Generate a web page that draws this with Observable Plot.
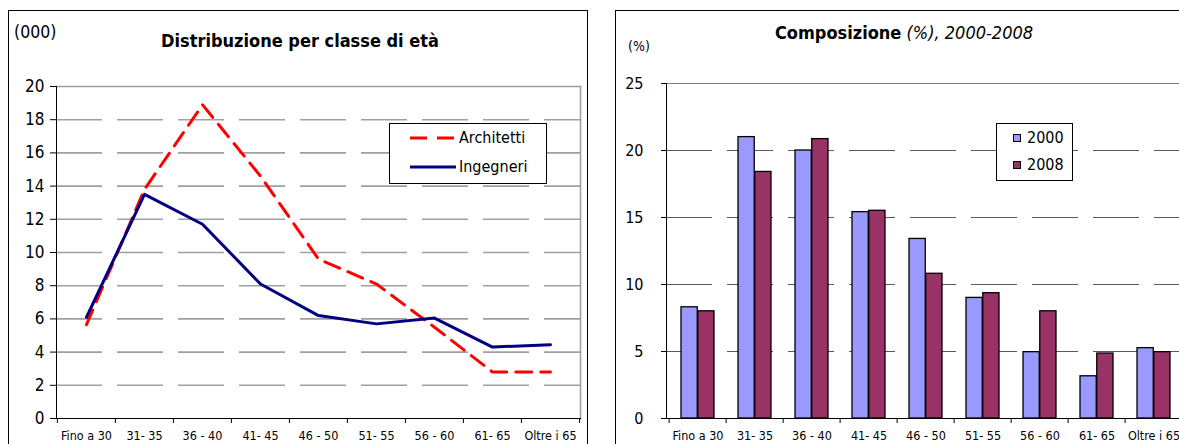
<!DOCTYPE html>
<html>
<head>
<meta charset="utf-8">
<script src="https://cdn.jsdelivr.net/npm/d3@7"></script>
<script src="https://cdn.jsdelivr.net/npm/@observablehq/plot@0.6"></script>
<style>
  html, body { margin: 0; padding: 0; width: 1179px; height: 444px; overflow: hidden; background: #fff; }
  body { position: relative; font-family: "DejaVu Sans Condensed", "DejaVu Sans", sans-serif; color: #000; }
  .panel { position: absolute; border: 1.5px solid #000; box-sizing: border-box; background: #fff; }
  .abs { position: absolute; white-space: nowrap; }
  .chart { position: absolute; top: 0; }
  .legend { position: absolute; border: 1px solid #000; background: #fff; box-sizing: border-box; }
  .legend .row { position: absolute; display: flex; align-items: center; font-size: 16px; }
</style>
</head>
<body>
<div class="panel" style="left:8px;top:10px;width:580px;height:460px;"></div>
<div class="panel" style="left:615px;top:10px;width:600px;height:460px;"></div>

<div class="abs" style="left:14px;top:22px;font-size:17.5px;">(000)</div>
<div class="abs" style="left:300px;top:30px;transform:translateX(-50%);font-size:18px;font-weight:bold;">Distribuzione per classe di età</div>

<div class="abs" style="left:628px;top:38px;font-size:14px;">(%)</div>
<div class="abs" style="left:904px;top:22px;transform:translateX(-50%);font-size:18px;"><b>Composizione</b> <i>(%), 2000-2008</i></div>

<div id="left" class="chart" style="left:0px;"></div>
<div id="right" class="chart" style="left:590px;"></div>

<div class="legend" style="left:389px;top:123px;width:158px;height:61px;">
  <div class="row" style="left:20px;top:4px;">
    <svg width="46" height="6" style="margin-right:3px"><line x1="0" y1="3" x2="46" y2="3" stroke="#ff0000" stroke-width="3" stroke-dasharray="17,10"/></svg>Architetti
  </div>
  <div class="row" style="left:20px;top:33px;">
    <svg width="46" height="6" style="margin-right:3px"><line x1="0" y1="3" x2="46" y2="3" stroke="#000080" stroke-width="3"/></svg>Ingegneri
  </div>
</div>

<div class="legend" style="left:996px;top:123px;width:77px;height:58px;">
  <div class="row" style="left:16px;top:4px;">
    <svg width="8" height="8" style="margin-right:6px"><rect x="0.5" y="0.5" width="7" height="7" fill="#9999ff" stroke="#000" stroke-width="1"/></svg>2000
  </div>
  <div class="row" style="left:16px;top:31px;">
    <svg width="8" height="8" style="margin-right:6px"><rect x="0.5" y="0.5" width="7" height="7" fill="#993366" stroke="#000" stroke-width="1"/></svg>2008
  </div>
</div>

<script>
// ---- data ----
const categories = ["Fino a 30", "31- 35", "36 - 40", "41- 45", "46 - 50", "51- 55", "56 - 60", "61- 65", "Oltre i 65"];
const architetti = [5.65, 13.8, 18.9, 14.6, 9.6, 8.1, 5.5, 2.8, 2.8];
const ingegneri = [6.1, 13.5, 11.7, 8.1, 6.2, 5.7, 6.05, 4.3, 4.45];
const share2000 = [8.3, 21.0, 20.0, 15.4, 13.4, 9.0, 4.95, 3.15, 5.25];
const share2008 = [8.0, 18.4, 20.85, 15.5, 10.8, 9.35, 8.0, 4.85, 4.95];
const leftYTicks = [0, 2, 4, 6, 8, 10, 12, 14, 16, 18, 20];
const rightYTicks = [0, 5, 10, 15, 20, 25];

const rows = categories.map((c, i) => ({
  cat: c, arch: architetti[i], ing: ingegneri[i], s2000: share2000[i], s2008: share2008[i]
}));

const tickFont = '"Liberation Sans Narrow", "Arial Narrow", "DejaVu Sans Condensed", sans-serif';
const numFont = '"DejaVu Sans Condensed", "DejaVu Sans", sans-serif';

// ---- left: line chart ----
{
  const W = 590, H = 444, mL = 56, mR = 10, mT = 86, mB = 26;
  const step = (W - mL - mR) / categories.length;
  const chart = Plot.plot({
    width: W, height: H, marginLeft: mL, marginRight: mR, marginTop: mT, marginBottom: mB,
    style: { background: "transparent", maxWidth: "none", overflow: "visible", color: "#000" },
    x: { type: "point", domain: categories, padding: 0.5, align: 0.5, label: null },
    y: { domain: [0, 20], label: null },
    marks: [
      Plot.ruleY(leftYTicks.filter(d => d > 0 && d < 20), { stroke: "#a0a0a0", strokeWidth: 1.6, strokeDasharray: "46,15" }),
      Plot.frame({ anchor: "top", stroke: "#a0a0a0", strokeWidth: 1.6 }),
      Plot.frame({ anchor: "right", stroke: "#a0a0a0", strokeWidth: 1.6 }),
      Plot.frame({ anchor: "left", stroke: "#000" }),
      Plot.frame({ anchor: "bottom", stroke: "#000" }),
      Plot.axisY({ ticks: leftYTicks, tickSize: 6, tickPadding: 6, fontSize: 17, fontFamily: numFont, label: null, tickFormat: d => d }),
      Plot.axisX({ tickSize: 0, tickPadding: 13, fontSize: 12.5, fontFamily: tickFont, label: null }),
      Plot.axisX({ text: null, tickSize: 5, dx: -step / 2, label: null }),
      Plot.axisX({ ticks: [categories[categories.length - 1]], text: null, tickSize: 5, dx: step / 2, label: null }),
      Plot.line(rows, { x: "cat", y: "arch", stroke: "#ff0000", strokeWidth: 3, strokeDasharray: "16,9" }),
      Plot.line(rows, { x: "cat", y: "ing", stroke: "#000080", strokeWidth: 3 })
    ]
  });
  document.getElementById("left").appendChild(chart);
}

// ---- right: grouped bars ----
{
  const W = 600, H = 444, mL = 76, mR = 4, mT = 83, mB = 26;
  const step = (W - mL - mR) / categories.length;
  const pin = 0.42;
  const bw = step * (1 - pin);
  const chart = Plot.plot({
    width: W, height: H, marginLeft: mL, marginRight: mR, marginTop: mT, marginBottom: mB,
    style: { background: "transparent", maxWidth: "none", overflow: "visible", color: "#000" },
    x: { type: "band", domain: categories, paddingInner: pin, paddingOuter: pin / 2, align: 0.5, label: null },
    y: { domain: [0, 25], label: null },
    marks: [
      Plot.ruleY(rightYTicks.filter(d => d > 0 && d < 25), { stroke: "#5a5a5a", strokeWidth: 1.2, strokeDasharray: "46,15" }),
      Plot.frame({ anchor: "top", stroke: "#808080", strokeWidth: 1.2 }),
      Plot.barY(rows, { x: "cat", y: "s2000", fill: "#9999ff", stroke: "#000", strokeWidth: 1.3, insetRight: bw / 2 }),
      Plot.barY(rows, { x: "cat", y: "s2008", fill: "#993366", stroke: "#000", strokeWidth: 1.3, insetLeft: bw / 2 }),
      Plot.frame({ anchor: "left", stroke: "#000" }),
      Plot.frame({ anchor: "bottom", stroke: "#000" }),
      Plot.axisY({ ticks: rightYTicks, tickSize: 5, tickPadding: 18, fontSize: 16, fontFamily: numFont, label: null, tickFormat: d => d }),
      Plot.axisX({ tickSize: 0, tickPadding: 13, fontSize: 12.5, fontFamily: tickFont, label: null }),
      Plot.axisX({ text: null, tickSize: 5, dx: -step / 2, label: null })
    ]
  });
  document.getElementById("right").appendChild(chart);
}
</script>
</body>
</html>
